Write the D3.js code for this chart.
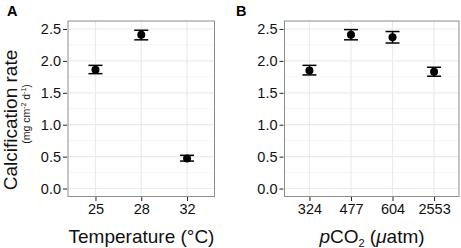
<!DOCTYPE html>
<html><head><meta charset="utf-8">
<script src="https://cdn.jsdelivr.net/npm/d3@7"></script>
<style>body{margin:0;background:#fff}svg{display:block}text{font-family:"Liberation Sans",Arial,sans-serif}</style>
</head><body><svg id="c" width="461" height="248"></svg>
<script>
const tempCats = ["25","28","32"];
const tempMean = [1.86, 2.41, 0.47];
const tempLo = [1.80, 2.33, 0.43];
const tempHi = [1.93, 2.48, 0.52];
const co2Cats = ["324","477","604","2553"];
const co2Mean = [1.85, 2.41, 2.37, 1.83];
const co2Lo = [1.78, 2.33, 2.28, 1.76];
const co2Hi = [1.93, 2.49, 2.46, 1.90];
const yTicks = [0, 0.5, 1.0, 1.5, 2.0, 2.5];
const yMinor = [0.25, 0.75, 1.25, 1.75, 2.25];

const svg = d3.select("#c");
const pTop = 21, pBot = 196.5;
const y = d3.scaleLinear().domain([-0.125, 2.625]).range([pBot, pTop]);
const TICK_FS = 14.5, TITLE_FS = 19;

function panel(x0, x1, cats, mean, lo, hi, label, labX) {
  const x = d3.scalePoint().domain(cats).range([x0, x1]).padding(0.6);
  const g = svg.append("g");
  g.append("rect").attr("x", x0).attr("y", pTop).attr("width", x1 - x0).attr("height", pBot - pTop).attr("fill", "#fff");
  g.selectAll(".mn").data(yMinor).join("line").attr("x1", x0).attr("x2", x1)
    .attr("y1", d => y(d)).attr("y2", d => y(d)).attr("stroke", "#f5f5f5").attr("stroke-width", 1);
  g.selectAll(".mj").data(yTicks).join("line").attr("x1", x0).attr("x2", x1)
    .attr("y1", d => y(d)).attr("y2", d => y(d)).attr("stroke", "#ebebeb").attr("stroke-width", 1.2);
  g.selectAll(".vx").data(cats).join("line").attr("x1", d => x(d)).attr("x2", d => x(d))
    .attr("y1", pTop).attr("y2", pBot).attr("stroke", "#ebebeb").attr("stroke-width", 1.2);
  g.append("rect").attr("x", x0).attr("y", pTop).attr("width", x1 - x0).attr("height", pBot - pTop)
    .attr("fill", "none").attr("stroke", "#8c8c8c").attr("stroke-width", 1);
  const ya = d3.axisLeft(y).tickValues(yTicks).tickFormat(d3.format(".1f")).tickSize(4).tickPadding(2);
  const yg = g.append("g").attr("transform", `translate(${x0 - 1},0)`).call(ya);
  yg.select(".domain").remove();
  yg.selectAll("line").attr("stroke", "#222");
  yg.selectAll("text").attr("font-size", TICK_FS).attr("fill", "#111");
  const xa = d3.axisBottom(x).tickSize(4).tickPadding(3);
  const xg = g.append("g").attr("transform", `translate(0,${pBot + 0.5})`).call(xa);
  xg.select(".domain").remove();
  xg.selectAll("line").attr("stroke", "#222");
  xg.selectAll("text").attr("font-size", TICK_FS).attr("fill", "#111");
  const d = cats.map((c, i) => ({c, m: mean[i], lo: lo[i], hi: hi[i]}));
  const eb = g.selectAll(".eb").data(d).join("g");
  eb.append("line").attr("x1", e => x(e.c)).attr("x2", e => x(e.c)).attr("y1", e => y(e.lo)).attr("y2", e => y(e.hi)).attr("stroke", "#000").attr("stroke-width", 1.5);
  eb.append("line").attr("x1", e => x(e.c) - 7).attr("x2", e => x(e.c) + 7).attr("y1", e => y(e.lo)).attr("y2", e => y(e.lo)).attr("stroke", "#000").attr("stroke-width", 1.5);
  eb.append("line").attr("x1", e => x(e.c) - 7).attr("x2", e => x(e.c) + 7).attr("y1", e => y(e.hi)).attr("y2", e => y(e.hi)).attr("stroke", "#000").attr("stroke-width", 1.5);
  eb.append("circle").attr("cx", e => x(e.c)).attr("cy", e => y(e.m)).attr("r", 4).attr("fill", "#000");
  svg.append("text").attr("x", labX).attr("y", 16).attr("font-size", 14.5).attr("font-weight", "bold").text(label);
  return x;
}
panel(68, 214.5, tempCats, tempMean, tempLo, tempHi, "A", 7);
panel(284.5, 459, co2Cats, co2Mean, co2Lo, co2Hi, "B", 236);

svg.append("text").attr("transform", "translate(17,120) rotate(-90)").attr("text-anchor", "middle")
  .attr("font-size", TITLE_FS).attr("fill", "#111").text("Calcification rate");
const sub = svg.append("text").attr("transform", "translate(30,114) rotate(-90)").attr("text-anchor", "middle")
  .attr("font-size", 10.5).attr("fill", "#111");
sub.append("tspan").text("(mg cm");
sub.append("tspan").attr("font-size", 7).attr("dy", -4).text("-2");
sub.append("tspan").attr("dy", 4).text(" d");
sub.append("tspan").attr("font-size", 7).attr("dy", -4).text("-1");
sub.append("tspan").attr("dy", 4).text(")");

svg.append("text").attr("x", 141.5).attr("y", 243).attr("text-anchor", "middle").attr("font-size", TITLE_FS).attr("fill", "#111").text("Temperature (°C)");
const xt = svg.append("text").attr("x", 372).attr("y", 243).attr("text-anchor", "middle").attr("font-size", TITLE_FS).attr("fill", "#111");
xt.append("tspan").attr("font-style", "italic").text("p");
xt.append("tspan").text("CO");
xt.append("tspan").attr("font-size", 11).attr("dy", 4).text("2");
xt.append("tspan").attr("dy", -4).text(" (");
xt.append("tspan").attr("font-style", "italic").text("μ");
xt.append("tspan").text("atm)");
</script></body></html>
